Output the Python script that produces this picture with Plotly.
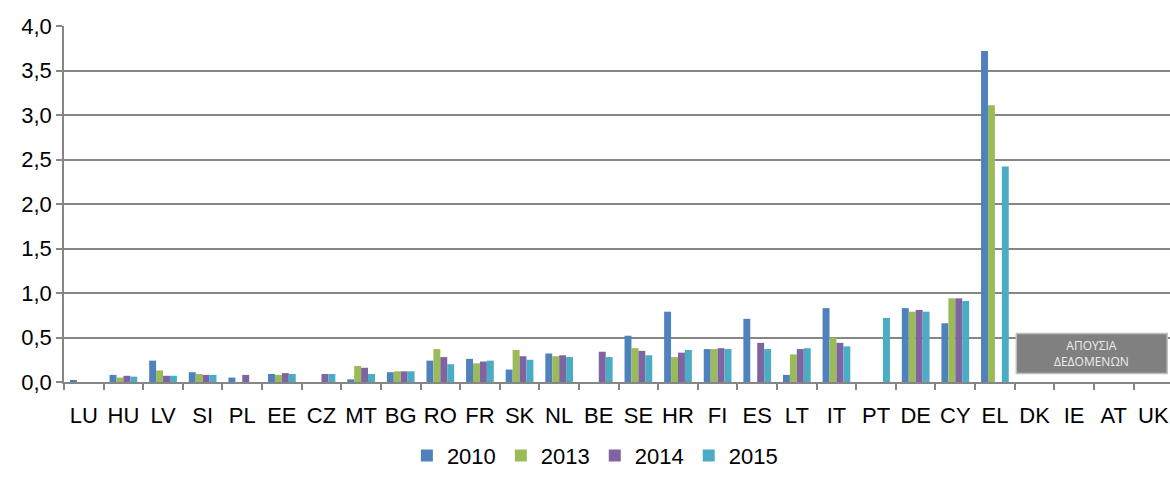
import plotly.graph_objects as go

countries = ['LU', 'HU', 'LV', 'SI', 'PL', 'EE', 'CZ', 'MT', 'BG', 'RO', 'FR', 'SK', 'NL', 'BE',
             'SE', 'HR', 'FI', 'ES', 'LT', 'IT', 'PT', 'DE', 'CY', 'EL', 'DK', 'IE', 'AT', 'UK']

v2010 = [0.02, 0.08, 0.24, 0.11, 0.05, 0.09, None, 0.03, 0.11, 0.24, 0.26, 0.14, 0.32, None,
         0.52, 0.79, 0.37, 0.71, 0.08, 0.83, None, 0.83, 0.66, 3.72, None, None, None, None]
v2013 = [None, 0.05, 0.13, 0.09, None, 0.08, None, 0.18, 0.12, 0.37, 0.21, 0.36, 0.29, None,
         0.38, 0.28, 0.37, None, 0.31, 0.50, None, 0.79, 0.94, 3.11, None, None, None, None]
v2014 = [None, 0.07, 0.07, 0.08, 0.08, 0.10, 0.09, 0.16, 0.12, 0.28, 0.23, 0.29, 0.30, 0.34,
         0.35, 0.33, 0.38, 0.44, 0.37, 0.44, None, 0.81, 0.94, None, None, None, None, None]
v2015 = [None, 0.06, 0.07, 0.08, None, 0.09, 0.09, 0.09, 0.12, 0.20, 0.24, 0.25, 0.28, 0.28,
         0.30, 0.36, 0.37, 0.37, 0.38, 0.40, 0.72, 0.79, 0.91, 2.42, None, None, None, None]

years = ['2010', '2013', '2014', '2015']
colors = ['#4F81BD', '#9BBB59', '#8064A2', '#4BACC6']
series = [v2010, v2013, v2014, v2015]

fig = go.Figure()

for name, vals, col in zip(years, series, colors):
    fig.add_trace(go.Bar(
        name=name,
        x=countries,
        y=vals,
        marker_color=col,
        marker_line_width=0
    ))

# "no data" box over the last countries
fig.add_shape(type='rect', xref='x', yref='y',
              x0=23.54, x1=27.35, y0=0.095, y1=0.545,
              fillcolor='#808080', line=dict(color='#BFBFBF', width=1.5))
fig.add_annotation(x=25.45, y=0.32, xref='x', yref='y',
                   text='ΑΠΟΥΣΙΑ<br>ΔΕΔΟΜΕΝΩΝ', showarrow=False,
                   font=dict(size=12, color='#EDEDED', family='Open Sans'),
                   align='center')

fig.update_layout(
    width=1170,
    height=477,
    barmode='group',
    bargap=0.3,
    bargroupgap=0,
    plot_bgcolor='white',
    paper_bgcolor='white',
    separators=',.',
    margin=dict(l=64, r=0, t=26, b=84),
    font=dict(family='Liberation Sans, Arial, sans-serif', size=22, color='black'),
    showlegend=True,
    legend=dict(orientation='h', x=0.48, xanchor='center', y=-0.207, yanchor='middle',
                font=dict(size=22), itemwidth=30, tracegroupgap=0)
)

fig.update_xaxes(
    type='category',
    tickson='boundaries',
    tickangle=0,
    automargin=False,
    ticks='outside', ticklen=6, tickcolor='#868686', tickwidth=1.5,
    ticklabelstandoff=13,
    showline=True, linecolor='#868686', linewidth=1.5,
    showgrid=False,
    range=[-0.5, 27.42],
    tickfont=dict(size=22)
)
fig.update_yaxes(
    range=[0, 4],
    dtick=0.5,
    tickformat='.1f',
    automargin=False,
    ticks='outside', ticklen=6, tickcolor='#868686', tickwidth=1.5,
    showline=True, linecolor='#868686', linewidth=1.5,
    showgrid=True, gridcolor='#868686', gridwidth=1.5,
    zeroline=False,
    tickfont=dict(size=22)
)

# drop the default page margin so the figure fills the window exactly
fig.write_html("out.html",
               config={'displayModeBar': False},
               post_script="document.body.style.margin='0';document.body.style.overflow='hidden';")
